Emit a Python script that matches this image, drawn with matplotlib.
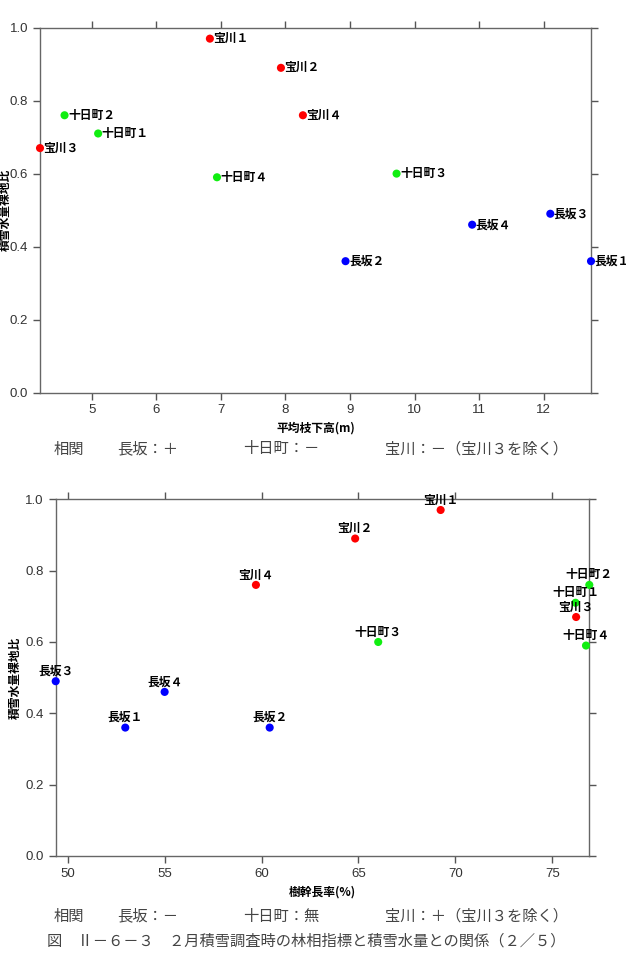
import numpy as np
import matplotlib
matplotlib.use("Agg")
import matplotlib.pyplot as plt

plt.rcParams['font.family'] = ['Liberation Sans', 'Noto Sans CJK JP']

# data: names, colours and values for both panels
names = ['長坂１', '長坂２', '長坂３', '長坂４',
         '十日町１', '十日町２', '十日町３', '十日町４',
         '宝川１', '宝川２', '宝川３', '宝川４']
colors = ['#0000ff'] * 4 + ['#11ee11'] * 4 + ['#ff0000'] * 4

swe_ratio = [0.36, 0.36, 0.49, 0.46,
             0.71, 0.76, 0.60, 0.59,
             0.97, 0.89, 0.67, 0.76]
branch_height = [12.73, 8.93, 12.10, 10.89,
                 5.10, 4.58, 9.72, 6.94,
                 6.83, 7.93, 4.20, 8.27]
stem_ratio = [52.97, 60.42, 49.38, 55.0,
              76.2, 76.91, 66.02, 76.74,
              69.24, 64.83, 76.23, 59.71]

top_xticks = [5, 6, 7, 8, 9, 10, 11, 12]
bot_xticks = [50, 55, 60, 65, 70, 75]
yticks = [0.0, 0.2, 0.4, 0.6, 0.8, 1.0]

ylabel = '積雪水量裸地比'
corr_top = ['相関', '長坂：＋', '十日町：－', '宝川：－（宝川３を除く）']
corr_bot = ['相関', '長坂：－', '十日町：無', '宝川：＋（宝川３を除く）']
caption = '図　Ⅱ－６－３　２月積雪調査時の林相指標と積雪水量との関係（２／５）'

W, H = 626, 966
fig = plt.figure(figsize=(W / 100, H / 100), dpi=100)

lab_font = dict(family=['Noto Sans CJK JP'], fontweight='bold', fontsize=8.5)


def style_axes(ax, xticks, xlim):
    ax.set_xlim(*xlim)
    ax.set_ylim(0, 1)
    ax.set_xticks(xticks)
    ax.set_yticks(yticks)
    ax.set_yticklabels(['%.1f' % v for v in yticks])
    ax.tick_params(direction='out', length=5, width=1, color='#555555',
                   labelsize=9.5, labelcolor='#333333',
                   top=True, right=True, labeltop=False, labelright=False)
    for s in ax.spines.values():
        s.set_color('#666666')
        s.set_linewidth(1)


# top panel
ax1 = fig.add_axes([40 / W, 1 - 392.5 / H, 551 / W, 364.8 / H])
ax1.scatter(branch_height, swe_ratio, c=colors, s=34, zorder=3, clip_on=False,
            linewidths=0)
for n, x, y in zip(names, branch_height, swe_ratio):
    ax1.annotate(n, (x, y), xytext=(2.5, 0), textcoords='offset points',
                 ha='left', va='center', annotation_clip=False, **lab_font)
style_axes(ax1, top_xticks, (4.2, 12.73))
ax1.set_xlabel('平均枝下高(m)', labelpad=4, **lab_font)
ax1.set_ylabel(ylabel, **lab_font)
ax1.yaxis.set_label_coords(-0.052, 0.5)

# bottom panel
ax2 = fig.add_axes([55.7 / W, 1 - 856 / H, 533.6 / W, 356.7 / H])
ax2.scatter(stem_ratio, swe_ratio, c=colors, s=34, zorder=3, clip_on=False,
            linewidths=0)
for n, x, y in zip(names, stem_ratio, swe_ratio):
    ax2.annotate(n, (x, y), xytext=(0, 2.5), textcoords='offset points',
                 ha='center', va='bottom', annotation_clip=False, **lab_font)
style_axes(ax2, bot_xticks, (49.38, 76.91))
ax2.set_xlabel('樹幹長率(%)', labelpad=4, **lab_font)
ax2.set_ylabel(ylabel, **lab_font)
ax2.yaxis.set_label_coords(-0.064, 0.5)

# correlation notes and caption
note_font = dict(family=['Noto Sans CJK JP'], fontsize=11, color='#444444',
                 va='center', ha='left')
xs = [54, 117, 243, 385]
for x, t in zip(xs, corr_top):
    fig.text(x / W, 1 - 449 / H, t, **note_font)
for x, t in zip(xs, corr_bot):
    fig.text(x / W, 1 - 916 / H, t, **note_font)
fig.text(47 / W, 1 - 941 / H, caption, **note_font)

fig.savefig('out.png', dpi=100)
